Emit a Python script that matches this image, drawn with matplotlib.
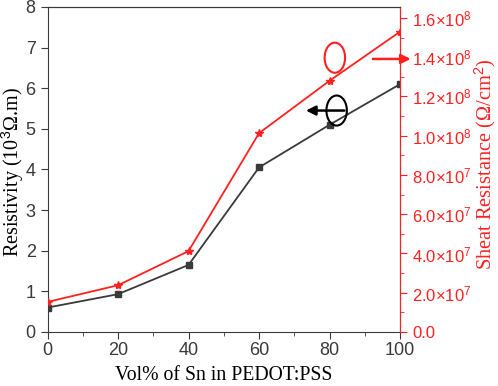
import math
import matplotlib
matplotlib.use("Agg")
import matplotlib.pyplot as plt
from matplotlib.patches import Ellipse
from matplotlib.ticker import FuncFormatter, MultipleLocator

vol = [0, 20, 40, 60, 80, 100]
resistivity = [0.6, 0.93, 1.65, 4.05, 5.1, 6.1]
sheet_res = [1.53e7, 2.38e7, 4.12e7, 1.013e8, 1.28e8, 1.53e8]

plt.rcParams['mathtext.fontset'] = 'custom'
plt.rcParams['mathtext.rm'] = 'Liberation Sans'
plt.rcParams['mathtext.it'] = 'Liberation Sans:italic'

dark = '#3a3a3a'
red = '#ff2020'

W, H = 498, 386
fig = plt.figure(figsize=(W / 100, H / 100), dpi=100)
ax = fig.add_axes([0.0954, 0.140, 0.708, 0.842])
ax2 = ax.twinx()

ax.plot(vol, resistivity, color=dark, marker='s', markersize=5, lw=1.3, zorder=3)
ax2.plot(vol, sheet_res, color=red, marker='*', markersize=6, lw=1.3)

ax.set_xlim(0, 100)
ax.set_ylim(0, 8)
ax2.set_ylim(0, 1.656e8)

ax.xaxis.set_major_locator(MultipleLocator(20))
ax.xaxis.set_minor_locator(MultipleLocator(10))
ax.yaxis.set_major_locator(MultipleLocator(1))
ax2.yaxis.set_major_locator(MultipleLocator(2e7))
ax2.yaxis.set_minor_locator(MultipleLocator(1e7))

def fmt(v, pos):
    if v <= 0:
        return '0.0'
    e = int(math.floor(math.log10(v) + 1e-9))
    m = v / 10**e
    return r'%.1f$\times$10$^{%d}$' % (m, e)

ax2.yaxis.set_major_formatter(FuncFormatter(fmt))

tickfont = 'Liberation Sans'
ax.tick_params(axis='both', which='both', direction='out', colors=dark, labelsize=13)
ax.tick_params(axis='x', pad=2)
ax.tick_params(which='major', length=5)
ax.tick_params(which='minor', length=3)
ax2.tick_params(axis='y', which='both', direction='out', colors=red, labelsize=12)
ax2.tick_params(which='major', length=5)
ax2.tick_params(which='minor', length=3)
for lab in ax.get_xticklabels() + ax.get_yticklabels() + ax2.get_yticklabels():
    lab.set_fontfamily(tickfont)

for s in ['left', 'bottom', 'top']:
    ax.spines[s].set_color(dark)
ax2.spines['right'].set_color(red)
ax2.spines['left'].set_visible(False)
ax2.spines['top'].set_color(dark)
ax2.spines['bottom'].set_visible(False)

ax.set_xlabel('Vol% of Sn in PEDOT:PSS', family='Liberation Serif', fontsize=14.5, color='black')
ax.xaxis.label.set_va('center')
ax.set_ylabel(r'Resistivity (10$^{3}$Ω.m)', family='Liberation Serif', fontsize=15, color='black')
ax.yaxis.label.set_va('center')
ax2.set_ylabel(r'Sheat Resistance (Ω/cm$^{2}$)', family='Liberation Serif', fontsize=12, color=red)
ax2.yaxis.label.set_va('center')

# fit label sizes/positions to the reference's pixel extents (top-origin pixels)
def place(axis, ax_coords, horizontal, length, cx, cy_top):
    axis.set_label_coords(*ax_coords)
    t = axis.label
    for _ in range(3):
        fig.canvas.draw()
        bb = t.get_window_extent(fig.canvas.get_renderer())
        L = bb.width if horizontal else bb.height
        t.set_fontsize(t.get_fontsize() * length / L)
    fig.canvas.draw()
    r = fig.canvas.get_renderer()
    bb = t.get_window_extent(r)
    axbb = ax.get_window_extent(r)
    ccx = (bb.x0 + bb.x1) / 2
    ccy = (bb.y0 + bb.y1) / 2
    tx, ty = cx, H - cy_top
    nx = ax_coords[0] + (tx - ccx) / axbb.width
    ny = ax_coords[1] + (ty - ccy) / axbb.height
    axis.set_label_coords(nx, ny)

place(ax.xaxis, (0.5, -0.138), True, 218, 224, 376)
place(ax.yaxis, (-0.097, 0.49), False, 170, 13, 172)
place(ax2.yaxis, (1.246, 0.54), False, 212, 485.5, 164)

# annotations
ax.add_patch(Ellipse((81.5, 6.75), 5.8, 0.74, fill=False, edgecolor=red, lw=1.5, zorder=4))
ax.annotate('', xy=(103.8, 6.72), xytext=(91.5, 6.72),
            arrowprops=dict(arrowstyle='-|>', color=red, lw=1.8, mutation_scale=14),
            annotation_clip=False, zorder=4)
ax.add_patch(Ellipse((82, 5.45), 5.8, 0.74, fill=False, edgecolor='black', lw=1.5, zorder=4))
ax.annotate('', xy=(72.5, 5.45), xytext=(85, 5.45),
            arrowprops=dict(arrowstyle='-|>', color='black', lw=1.8, mutation_scale=14),
            zorder=4)

fig.savefig('out.png', dpi=100)
